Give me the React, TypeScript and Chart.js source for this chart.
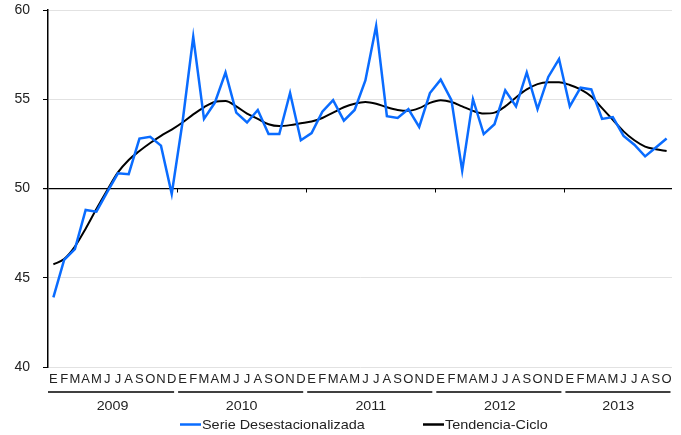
import React, { useEffect, useRef } from "react";
import { Chart, registerables } from "chart.js";

Chart.register(...registerables);

const monthLetters = ["E", "F", "M", "A", "M", "J", "J", "A", "S", "O", "N", "D"];
const years = ["2009", "2010", "2011", "2012", "2013"];
const monthsPerYear = [12, 12, 12, 12, 10];

const serieDesestacionalizada = [
  43.9, 46.0, 46.6, 48.8, 48.7, 49.8, 50.85, 50.8, 52.8, 52.9, 52.4, 49.7,
  53.7, 58.5, 53.9, 54.8, 56.5, 54.25, 53.7, 54.4, 53.05, 53.05, 55.35, 52.7,
  53.1, 54.3, 54.95, 53.8, 54.4, 56.05, 59.1, 54.05, 53.95, 54.45, 53.45, 55.35,
  56.1, 54.95, 51.0, 55.0, 53.05, 53.6, 55.5, 54.6, 56.5, 54.45, 56.25, 57.25,
  54.6, 55.65, 55.55, 53.9, 54.0, 52.95, 52.45, 51.8, 52.3, 52.8,
];

const tendenciaCiclo = [
  45.75, 46.05, 46.75, 47.75, 48.85, 49.9, 50.9, 51.6, 52.1, 52.55, 52.95, 53.3,
  53.7, 54.15, 54.55, 54.85, 54.9, 54.6, 54.2, 53.9, 53.6, 53.5, 53.55, 53.65,
  53.75, 53.95, 54.25, 54.55, 54.75, 54.85, 54.75, 54.55, 54.4, 54.35, 54.5, 54.8,
  54.95, 54.85, 54.6, 54.35, 54.2, 54.25, 54.6, 55.1, 55.55, 55.85, 55.95, 55.95,
  55.8, 55.55, 55.15, 54.5, 53.85, 53.2, 52.7, 52.35, 52.2, 52.1,
];

const seriesNames = ["Serie Desestacionalizada", "Tendencia-Ciclo"];
const BLUE = "#0A6CFF";
const FONT = "'Liberation Sans', Arial, sans-serif";

const labels: string[] = [];
monthsPerYear.forEach((n) => {
  for (let i = 0; i < n; i++) labels.push(monthLetters[i]);
});

function wideText(ctx: any, text: string, x: number, y: number, sx: number) {
  ctx.save();
  ctx.translate(x, y);
  ctx.scale(sx, 1);
  ctx.fillText(text, 0, 0);
  ctx.restore();
}

const extrasPlugin = {
  id: "extras",
  afterDraw(chart: any) {
    const ctx = chart.ctx;
    const x = chart.scales.x;
    const y = chart.scales.y;
    const ca = chart.chartArea;
    const half = (x.getPixelForValue(1) - x.getPixelForValue(0)) / 2;
    ctx.save();
    const y50 = y.getPixelForValue(50);
    ctx.strokeStyle = "#000";
    ctx.lineWidth = 1;
    let start = 0;
    const bounds: number[] = [];
    monthsPerYear.forEach((n) => {
      bounds.push(x.getPixelForValue(start) - half);
      start += n;
    });
    bounds.push(ca.right);
    for (let i = 1; i < bounds.length - 1; i++) {
      const bx = Math.round(bounds[i]) + 0.5;
      ctx.beginPath();
      ctx.moveTo(bx, y50);
      ctx.lineTo(bx, y50 + 4);
      ctx.stroke();
    }
    ctx.font = "13px " + FONT;
    ctx.fillStyle = "#222";
    ctx.textAlign = "center";
    ctx.textBaseline = "middle";
    years.forEach((yr, i) => {
      const l = i === 0 ? bounds[i] : bounds[i] + 1;
      const r = i === years.length - 1 ? bounds[i + 1] - 1.5 : bounds[i + 1] - 3;
      ctx.strokeStyle = "#000";
      ctx.lineWidth = 1.5;
      ctx.beginPath();
      ctx.moveTo(l, 392);
      ctx.lineTo(r, 392);
      ctx.stroke();
      wideText(ctx, yr, (bounds[i] + bounds[i + 1]) / 2, 406, 1.1);
    });
    const items = [
      { name: seriesNames[0], color: BLUE, x0: 180 },
      { name: seriesNames[1], color: "#000", x0: 423 },
    ];
    ctx.textAlign = "left";
    items.forEach((it) => {
      ctx.strokeStyle = it.color;
      ctx.lineWidth = 2.5;
      ctx.beginPath();
      ctx.moveTo(it.x0, 424.5);
      ctx.lineTo(it.x0 + 21, 424.5);
      ctx.stroke();
      ctx.fillStyle = "#222";
      wideText(ctx, it.name, it.x0 + 22, 425, 1.11);
    });
    ctx.restore();
  },
};

export default function App() {
  const ref = useRef<HTMLCanvasElement | null>(null);
  useEffect(() => {
    document.body.style.margin = "0";
    const chart = new Chart(ref.current as HTMLCanvasElement, {
      type: "line",
      data: {
        labels,
        datasets: [
          {
            label: seriesNames[0],
            data: serieDesestacionalizada,
            borderColor: BLUE,
            borderWidth: 2.5,
            pointRadius: 0,
            tension: 0,
          },
          {
            label: seriesNames[1],
            data: tendenciaCiclo,
            borderColor: "#000",
            borderWidth: 2,
            pointRadius: 0,
            cubicInterpolationMode: "monotone",
          },
        ],
      },
      options: {
        animation: false,
        responsive: false,
        maintainAspectRatio: false,
        layout: { padding: { top: 10, right: 9, left: 0, bottom: 0 } },
        plugins: { legend: { display: false }, tooltip: { enabled: false } },
        scales: {
          x: {
            type: "category",
            offset: true,
            grid: { display: false, drawTicks: false },
            border: { display: false },
            ticks: {
              autoSkip: false,
              maxRotation: 0,
              padding: 5,
              color: "#222",
              font: { family: FONT, size: 13 },
            },
            afterFit: (s: any) => {
              s.height = 68;
            },
          },
          y: {
            min: 40,
            max: 60,
            ticks: {
              stepSize: 5,
              padding: 13,
              color: "#222",
              font: { family: FONT, size: 14 },
            },
            grid: {
              color: (c: any) => (c.tick && c.tick.value === 50 ? "#000" : "#e2e2e2"),
              tickColor: "#000",
              tickLength: 5,
              lineWidth: (c: any) => (c.tick && c.tick.value === 50 ? 1.2 : 1),
            },
            border: { display: true, color: "#000", width: 1.5 },
            afterFit: (s: any) => {
              s.width = 48;
              s.paddingTop = 0;
              s.paddingBottom = 0;
            },
          },
        },
      },
      plugins: [extrasPlugin],
    } as any);
    return () => chart.destroy();
  }, []);
  return (
    <div style={{ width: 681, height: 435 }}>
      <canvas ref={ref} width={681} height={435} style={{ display: "block" }} />
    </div>
  );
}
